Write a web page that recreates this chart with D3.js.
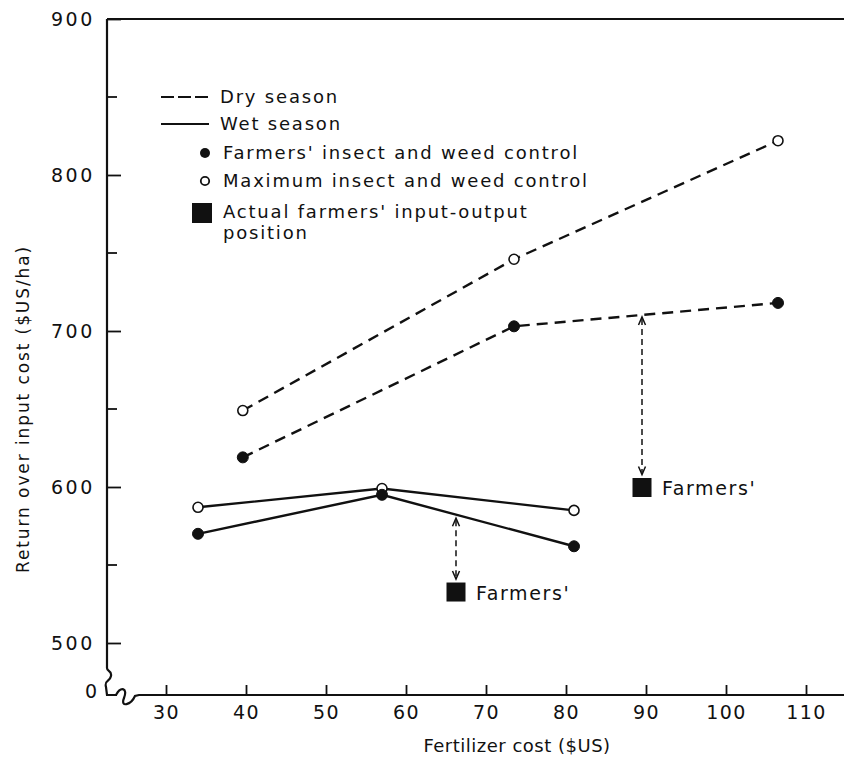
<!DOCTYPE html>
<html><head><meta charset="utf-8">
<script src="https://cdn.jsdelivr.net/npm/d3@7"></script>
<style>
html,body{margin:0;padding:0;background:#fff;}
svg text{font-family:"DejaVu Sans",sans-serif;fill:#111;}
</style></head>
<body><svg id="c" width="844" height="757"></svg>
<script>
// ---- data ----
const dryX = [39.6, 73.5, 106.5];
const dryMax = [649, 746, 822];
const dryFarmers = [619, 703, 718];
const wetX = [34, 57, 81];
const wetMax = [587, 599, 585];
const wetFarmers = [570, 595, 562];
const actualX = [66.25, 89.5];
const actualY = [533, 600];
const gapTop = [580, 709];     // where the gap arrows start (on the farmers' line)
const gapBottom = [541, 608];  // arrow tip just above the square
const xTicks = [30, 40, 50, 60, 70, 80, 90, 100, 110];
const yMajor = [500, 600, 700, 800, 900];
const yMinor = [550, 650, 750, 850];
const legendLabels = ["Dry season", "Wet season", "Farmers' insect and weed control",
  "Maximum insect and weed control", "Actual farmers' input-output", "position"];

const svg = d3.select("#c");
const x = d3.scaleLinear().domain([30, 110]).range([166, 806]);
const y = d3.scaleLinear().domain([500, 900]).range([643, 19]);
const axX = 107, axY = 695;
const ink = "#111";
const FF = '"DejaVu Sans",sans-serif';

// frame: top line
svg.append("line").attr("x1", axX).attr("x2", 844).attr("y1", y(900)).attr("y2", y(900))
  .attr("stroke", ink).attr("stroke-width", 2.2);
// y axis with break
svg.append("path").attr("fill", "none").attr("stroke", ink).attr("stroke-width", 2.2)
  .attr("d", `M${axX},${y(900)} L${axX},${668} C${axX},${672} ${axX+5},${670} ${axX+4},${676} C${axX+3},${682} ${axX-3},${680} ${axX-1},${687} L${axX},${axY} L${axX+10},${axY}`);
// x axis with break
svg.append("path").attr("fill", "none").attr("stroke", ink).attr("stroke-width", 2.2)
  .attr("d", `M${axX+9},${axY} C${axX+14},${axY-9} ${axX+21},${axY-7} ${axX+17},${axY+3} C${axX+13},${axY+13} ${axX+24},${axY+10} ${axX+28},${axY+1} L${axX+32},${axY} L844,${axY}`);

// x ticks
svg.append("g").attr("transform", `translate(0,${axY})`)
  .call(d3.axisBottom(x).tickValues(xTicks).tickSize(0).tickPadding(11))
  .call(g => g.select(".domain").remove())
  .call(g => g.selectAll(".tick").append("line").attr("y1", 0).attr("y2", -10).attr("stroke", ink).attr("stroke-width", 1.8))
  .call(g => g.selectAll("text").attr("font-size", 19).attr("letter-spacing", 1.5).attr("fill", ink).attr("font-family", FF));

// y ticks
svg.append("g").attr("transform", `translate(${axX},0)`)
  .call(d3.axisLeft(y).tickValues(yMajor).tickSize(0).tickPadding(12))
  .call(g => g.select(".domain").remove())
  .call(g => g.selectAll(".tick").append("line").attr("x1", 0).attr("x2", 14).attr("stroke", ink).attr("stroke-width", 1.8))
  .call(g => g.selectAll("text").attr("font-size", 19).attr("letter-spacing", 2.6).attr("fill", ink).attr("font-family", FF));
svg.append("g").selectAll("line").data(yMinor).join("line")
  .attr("x1", axX).attr("x2", axX + 10).attr("y1", d => y(d)).attr("y2", d => y(d))
  .attr("stroke", ink).attr("stroke-width", 1.8);
svg.append("text").attr("x", axX - 10).attr("y", axY - 3).attr("dy", "0.32em")
  .attr("text-anchor", "end").attr("font-size", 19).text("0");

// axis titles
svg.append("text").attr("x", 517).attr("y", 752).attr("text-anchor", "middle")
  .attr("font-size", 18).attr("letter-spacing", 0.5).text("Fertilizer cost ($US)");
svg.append("text").attr("transform", `translate(29,${409}) rotate(-90)`).attr("text-anchor", "middle")
  .attr("font-size", 17).attr("letter-spacing", 1.9).text("Return over input cost ($US/ha)");

// series lines
const line = d3.line().x(d => x(d[0])).y(d => y(d[1]));
function series(xs, ys, dashed, filled) {
  const pts = xs.map((v, i) => [v, ys[i]]);
  svg.append("path").datum(pts).attr("d", line).attr("fill", "none").attr("stroke", ink)
    .attr("stroke-width", 2.4).attr("stroke-dasharray", dashed ? "11,7" : null);
  svg.append("g").selectAll("circle").data(pts).join("circle")
    .attr("cx", d => x(d[0])).attr("cy", d => y(d[1])).attr("r", filled ? 5.5 : 5)
    .attr("fill", filled ? ink : "#fff").attr("stroke", ink).attr("stroke-width", filled ? 1 : 1.6);
}
series(dryX, dryMax, true, false);
series(dryX, dryFarmers, true, true);
series(wetX, wetMax, false, false);
series(wetX, wetFarmers, false, true);

// gap arrows
actualX.forEach((ax, i) => {
  const px = x(ax), t = y(gapTop[i]), b = y(gapBottom[i]);
  svg.append("line").attr("x1", px).attr("x2", px).attr("y1", t + 2).attr("y2", b - 2)
    .attr("stroke", ink).attr("stroke-width", 1.5).attr("stroke-dasharray", "6,4");
  svg.append("path").attr("fill", "none").attr("stroke", ink).attr("stroke-width", 1.5)
    .attr("d", `M${px-3.5},${t+8} L${px},${t} L${px+3.5},${t+8}`);
  svg.append("path").attr("fill", "none").attr("stroke", ink).attr("stroke-width", 1.5)
    .attr("d", `M${px-3.5},${b-8} L${px},${b} L${px+3.5},${b-8}`);
  svg.append("rect").attr("x", px - 9.5).attr("y", y(actualY[i]) - 9).attr("width", 19).attr("height", 19)
    .attr("fill", ink);
  svg.append("text").attr("x", px + 20).attr("y", y(actualY[i]) + 8).attr("font-size", 19)
    .attr("letter-spacing", 1.6).text("Farmers'");
});

// legend
const lg = svg.append("g");
lg.append("line").attr("x1", 161).attr("x2", 209).attr("y1", 97).attr("y2", 97)
  .attr("stroke", ink).attr("stroke-width", 2.2).attr("stroke-dasharray", "13,4");
lg.append("line").attr("x1", 161).attr("x2", 209).attr("y1", 124).attr("y2", 124)
  .attr("stroke", ink).attr("stroke-width", 2.2);
lg.append("circle").attr("cx", 205).attr("cy", 153).attr("r", 5).attr("fill", ink);
lg.append("circle").attr("cx", 205).attr("cy", 181).attr("r", 4.2).attr("fill", "#fff").attr("stroke", ink).attr("stroke-width", 1.8);
lg.append("rect").attr("x", 192).attr("y", 203).attr("width", 20).attr("height", 20).attr("fill", ink);
const ly = [97, 124, 153, 181, 212, 233];
lg.selectAll("text").data(legendLabels).join("text")
  .attr("x", (d, i) => i < 2 ? 220 : 223).attr("y", (d, i) => ly[i]).attr("dy", "0.35em")
  .attr("font-size", 18).attr("letter-spacing", 1.8).text(d => d);
</script></body></html>
